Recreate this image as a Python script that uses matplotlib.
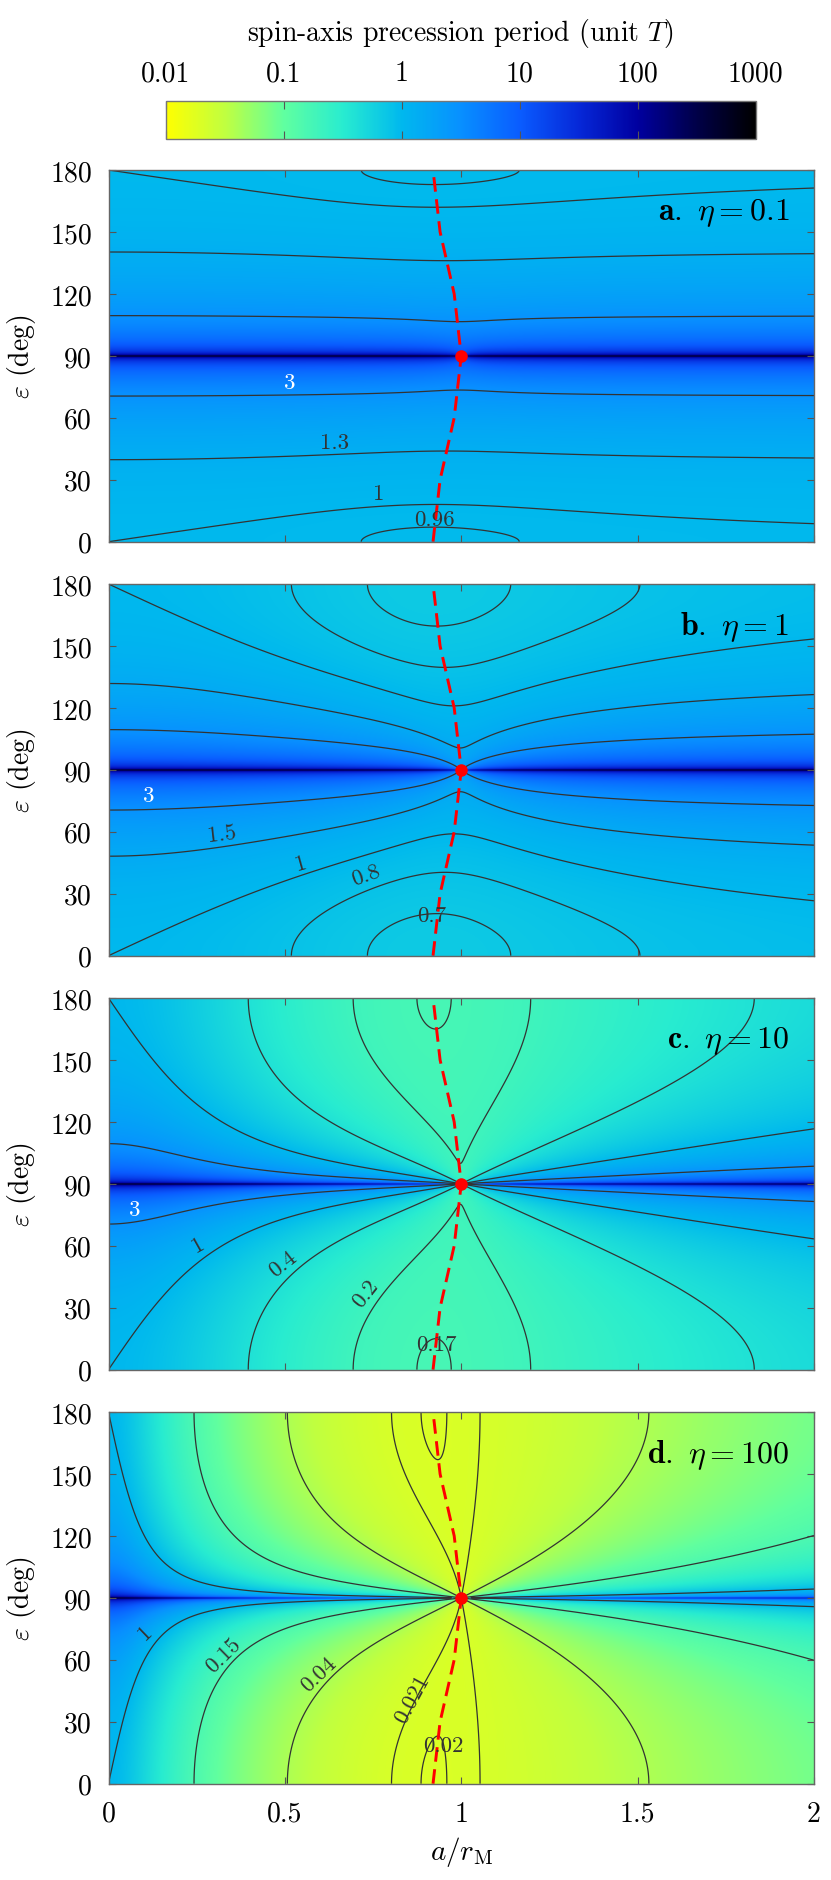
import numpy as np
import matplotlib
matplotlib.use("Agg")
import matplotlib.pyplot as plt
from matplotlib.colors import LinearSegmentedColormap, LogNorm

# panel parameters (satellite mass parameter eta)
eta_values = [0.1, 1, 10, 100]
panel_letters = ["a", "b", "c", "d"]

# contour levels drawn in each panel
levels_a = [0.96, 1, 1.3, 3]
levels_b = [0.7, 0.8, 1, 1.5, 3]
levels_c = [0.17, 0.2, 0.4, 1, 3]
levels_d = [0.02, 0.021, 0.04, 0.15, 1]

# labelled contour values (text) per panel
labels_a = ["3", "1.3", "1", "0.96"]
labels_b = ["3", "1.5", "1", "0.8", "0.7"]
labels_c = ["3", "1", "0.4", "0.2", "0.17"]
labels_d = ["1", "0.15", "0.04", "0.021", "0.02"]

# red dashed track (location of the minimum period)
track_eps = [0, 15, 30, 45, 60, 75, 90, 105, 120, 135, 150, 165, 180]
track_a = [0.92, 0.93, 0.94, 0.96, 0.98, 0.99, 1.0, 0.99, 0.98, 0.96, 0.94, 0.93, 0.92]

cbar_ticks = [0.01, 0.1, 1, 10, 100, 1000]
cbar_ticklabels = ["0.01", "0.1", "1", "10", "100", "1000"]

coupling = 0.965  # strength of the satellite term


def period(a, eps_deg, eta):
    # spin-axis precession period of the planet with a satellite at a/r_M
    eps = np.radians(eps_deg)
    x = a**5
    d = np.sqrt(1 + 2 * x * np.cos(2 * eps) + x**2)
    nu = np.cos(eps) * (1 + coupling * eta * a**2 / d)
    return 1 / np.abs(nu)


def main():
    plt.rcParams["font.family"] = "serif"
    plt.rcParams["font.serif"] = ["cmr10"]
    plt.rcParams["mathtext.fontset"] = "cm"
    plt.rcParams["axes.formatter.use_mathtext"] = True

    cmap = LinearSegmentedColormap.from_list(
        "prec",
        [
            (0.00, "#ffff00"),
            (0.10, "#c0ff40"),
            (0.20, "#60ffa0"),
            (0.30, "#28ecd0"),
            (0.40, "#00b8ee"),
            (0.50, "#0890ff"),
            (0.60, "#0a5cff"),
            (0.70, "#0628d8"),
            (0.80, "#0000a0"),
            (0.90, "#000048"),
            (1.00, "#000000"),
        ],
        N=512,
    )
    norm = LogNorm(vmin=0.01, vmax=1000)

    W, H = 831, 1881
    fig = plt.figure(figsize=(W / 100, H / 100), dpi=100)

    def px_axes(left, top, width, height):
        return fig.add_axes([left / W, 1 - (top + height) / H, width / W, height / H])

    a_grid = np.linspace(0, 2, 1200)
    e_grid = np.linspace(0, 180, 1080)
    A, E = np.meshgrid(a_grid, e_grid)

    all_levels = [levels_a, levels_b, levels_c, levels_d]
    all_labels = [labels_a, labels_b, labels_c, labels_d]
    # label placement (a, eps) for each panel
    label_xy = [
        [(0.515, 77), (0.64, 48), (0.765, 23.5), (0.925, 11)],
        [(0.115, 77.5), (0.32, 59), (0.545, 45), (0.73, 39), (0.915, 19.5)],
        [(0.075, 77.5), (0.255, 61), (0.495, 51.5), (0.73, 37), (0.93, 12.5)],
        [(0.105, 73.7), (0.325, 62.5), (0.595, 53), (0.86, 41.5), (0.95, 18.7)],
    ]

    ax_left, ax_w, ax_h = 108.5, 705.5, 371.7
    tops = [171, 585, 999, 1413]
    sx = ax_w / 2.0
    sy = ax_h / 180.0

    im = None
    for k, eta in enumerate(eta_values):
        ax = px_axes(ax_left, tops[k], ax_w, ax_h)
        P = period(A, E, eta)
        im = ax.imshow(
            np.clip(P, 0.01, 1000),
            extent=[0, 2, 0, 180],
            origin="lower",
            aspect="auto",
            cmap=cmap,
            norm=norm,
            interpolation="bilinear",
        )
        ax.contour(A, E, P, levels=all_levels[k], colors="#333333", linewidths=0.9)

        # contour labels, rotated along the local contour direction
        n_lab = len(all_labels[k])
        for j, (txt, (xa, ye)) in enumerate(zip(all_labels[k], label_xy[k])):
            ang = 0.0
            if k > 0 and txt != "3" and j < n_lab - 1:
                h = 1e-4
                lp = np.log(period(xa, ye, eta))
                ga = (np.log(period(xa + h, ye, eta)) - lp) / h / sx
                ge = (np.log(period(xa, ye + h * 90, eta)) - lp) / (h * 90) / sy
                ang = np.degrees(np.arctan2(-ga, ge))
                if ang > 90:
                    ang -= 180
                elif ang <= -90:
                    ang += 180
            col = "white" if txt == "3" else "#333333"
            ax.text(xa, ye, txt, fontsize=16.5, color=col, rotation=ang,
                    rotation_mode="anchor", ha="center", va="center")

        ax.plot(track_a, track_eps, color="red", lw=2.1, ls=(0, (5, 2.6)),
                dash_capstyle="butt")
        ax.plot([1.0], [90], "o", color="red", ms=8, mec="red")

        ax.set_xlim(0, 2)
        ax.set_ylim(0, 180)
        ax.set_xticks([0, 0.5, 1, 1.5, 2])
        ax.set_yticks([0, 30, 60, 90, 120, 150, 180])
        ax.set_yticklabels(["0", "30", "60", "90", "120", "150", "180"])
        if k == 3:
            ax.set_xticklabels(["0", "0.5", "1", "1.5", "2"])
        else:
            ax.set_xticklabels([])
        ax.tick_params(direction="in", top=True, right=True, length=5,
                       width=0.8, color="#555555", labelsize=20, pad=12)
        for sp in ax.spines.values():
            sp.set_color("#666666")
            sp.set_linewidth(1)

        ax.set_ylabel(r"$\varepsilon$ (deg)", fontsize=20)
        ax.yaxis.set_label_coords(-0.1, 0.5)

        ax.text(0.965, 0.888, r"$\mathbf{%s.}\ \eta = %g$" % (panel_letters[k], eta),
                transform=ax.transAxes, ha="right", va="center", fontsize=23)

    fig.text((ax_left + ax_w / 2) / W, 1 - 1852 / H, r"$a/r_{\rm M}$",
             ha="center", va="center", fontsize=21)

    cax = px_axes(165.7, 102.3, 590, 37.4)
    cb = fig.colorbar(im, cax=cax, orientation="horizontal")
    cb.set_ticks(cbar_ticks)
    cb.set_ticklabels(cbar_ticklabels)
    cax.minorticks_off()
    cax.xaxis.set_ticks_position("both")
    cax.tick_params(direction="in", length=6, width=0.8, color="#555555",
                    labeltop=True, labelbottom=False, labelsize=20, pad=11)
    cb.outline.set_edgecolor("#777777")
    cb.outline.set_linewidth(1)
    fig.text((165.7 + 295) / W, 1 - 34 / H, r"spin-axis precession period (unit $T$)",
             ha="center", va="center", fontsize=20)

    fig.savefig("out.png", dpi=100)


if __name__ == "__main__":
    main()
